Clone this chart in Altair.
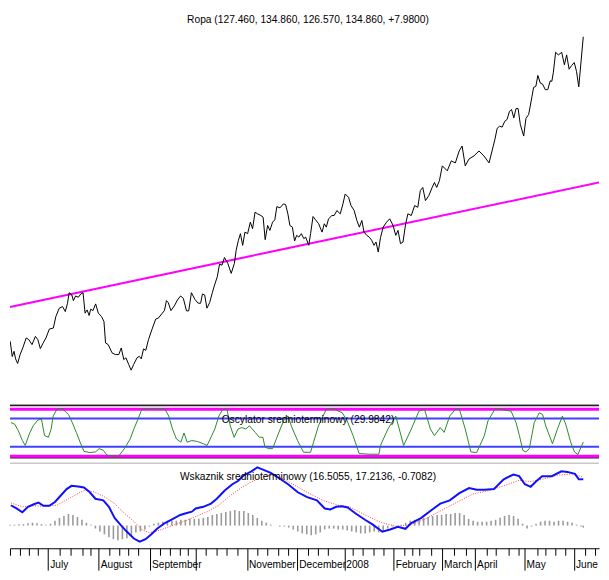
import altair as alt
import pandas as pd

FONT = "Liberation Sans, Arial, sans-serif"

# ---------------- data (session index t) ----------------
price_t = [0.1,1.0,1.8,2.5,3.4,4.5,5.7,7.2,8.4,9.8,11.3,12.4,13.5,14.6,16.0,17.5,19.3,20.4,21.9,23.4,
           24.6,25.6,26.3,27.5,28.2,29.2,30.4,31.5,32.5,33.4,34.3,35.2,35.9,36.9,38.1,39.3,40.7,41.8,42.5,43.7,
           45.4,46.9,48.4,49.5,50.6,51.6,52.8,53.9,55.0,56.5,57.5,58.4,59.4,60.4,61.6,63.1,64.8,66.0,67.5,68.7,
           69.6,70.4,71.6,73.1,74.5,75.9,77.1,78.5,79.5,80.7,82.2,83.7,84.8,85.6,86.6,87.6,88.8,90.0,91.0,92.2,
           93.2,94.3,95.4,96.9,98.4,99.8,100.6,101.6,102.5,103.5,104.5,105.7,106.9,107.9,109.0,110.1,111.6,112.6,113.5,114.6,
           115.6,116.8,117.8,118.7,120.1,121.6,122.6,123.6,124.5,125.6,126.6,127.5,128.5,129.6,130.7,131.5,132.9,133.7,134.8,135.9,
           137.3,138.8,139.8,140.7,141.7,143.2,144.2,145.4,146.9,148.1,149.1,150.6,151.7,153.1,154.3,155.4,156.5,157.5,158.7,159.8,
           160.9,161.9,162.8,163.8,164.8,166.0,167.5,168.9,170.4,171.6,172.6,173.7,174.8,176.0,177.0,178.5,180.0,181.4,182.5,183.6,
           184.8,186.3,187.8,188.8,189.8,191.0,
           192.3,194.5,196.3,198.1,199.8,201.1,202.5,204.2,206.4,208.6,210.8,213.1,
           215.7,216.7,217.8,218.9,220.1,221.1,222.2,223.1,224.1,225.1,226.0,227.0,228.5,229.5,230.7,232.2,232.9,233.9,234.8,235.9,
           236.9,238.1,239.2,240.3,241.0,241.7,242.7,243.9,245.4,246.6,247.6,248.7,249.8,251.0,252.0,253.0,255.0]
price_v = [86.40,83.98,84.82,83.62,82.88,84.30,85.36,86.94,86.67,85.88,87.19,86.67,85.25,86.04,86.94,88.36,88.52,90.35,91.68,91.93,
           91.14,92.47,94.14,93.78,92.88,93.62,93.42,93.94,94.14,90.89,91.41,90.51,91.52,91.30,92.36,90.89,90.35,89.56,86.15,85.88,
           84.57,84.30,84.30,85.36,83.51,83.78,82.72,81.82,82.72,83.78,84.03,83.62,85.20,84.98,86.67,88.25,89.94,90.10,90.78,91.30,
           92.88,92.56,91.30,92.04,92.99,93.62,93.26,91.25,91.25,94.14,93.10,92.47,92.47,93.94,93.78,91.68,92.56,94.14,95.36,96.67,
           98.68,98.52,99.74,98.79,97.21,98.79,100.89,102.47,103.53,101.68,103.78,103.53,105.36,104.32,106.94,106.69,106.42,106.15,102.58,104.84,
           104.05,105.36,105.74,107.84,107.64,108.27,108.16,106.69,104.84,104.57,102.36,103.26,102.99,103.53,102.74,102.99,101.68,103.53,106.26,105.74,
           105.11,103.78,105.11,104.57,105.90,106.42,106.42,107.21,106.69,108.27,109.85,109.31,108.00,107.21,105.63,104.57,105.63,103.78,103.26,102.99,
           102.47,101.68,102.20,100.62,102.90,104.57,105.36,105.90,104.84,103.26,104.05,101.95,102.20,105.11,106.69,106.42,108.00,107.73,110.37,110.89,
           108.79,109.58,110.89,111.68,110.89,111.95,
           114.32,113.53,115.11,114.79,116.69,117.48,114.32,115.43,115.90,116.69,115.90,114.79,
           118.54,120.28,120.64,120.48,121.43,121.70,123.01,123.28,121.95,123.44,123.44,120.91,119.06,121.86,122.49,125.38,126.80,126.96,128.70,127.48,
           127.32,126.44,126.44,127.86,127.75,129.22,132.38,131.97,132.38,130.39,131.97,129.69,130.28,130.75,129.33,126.88,134.86]

trend_t = [0, 265.5]
trend_v = [91.88, 111.95]

osc_t = [0.4,2.1,3.7,5.5,6.8,8.6,10.3,12.4,14.0,15.4,17.1,18.3,19.2,20.9,23.5,26.0,27.7,29.5,31.2,32.9,
         35.5,38.0,39.7,41.5,43.2,45.7,48.3,50.9,53.5,55.1,56.9,58.6,62.9,68.9,70.6,72.3,74.0,76.0,77.4,78.8,
         80.9,83.4,86.0,87.7,89.4,91.1,92.9,94.6,96.5,98.0,99.7,101.4,103.1,104.9,106.5,109.1,110.9,112.5,113.4,115.1,
         116.8,118.5,120.2,122.0,123.7,125.3,127.9,130.6,133.7,137.2,140.7,144.2,147.8,150.0,152.6,155.3,159.6,164.1,164.8,168.1,
         171.6,175.1,178.5,181.9,184.4,187.0,188.8,191.4,193.1,195.6,198.2,199.9,202.5,205.0,207.6,211.0,212.6,215.6,217.5,222.9,
         225.1,226.6,228.1,229.5,231.0,233.2,235.4,236.9,238.3,241.3,243.5,245.7,247.2,249.4,251.1,252.6,255.0]
osc_v = [71.5,68.1,54.2,33.3,22.9,47.3,64.6,77.1,78.5,43.7,40.2,57.7,85.4,100,100,88.9,71.5,50.6,29.8,10.4,
         7.7,9.0,16.0,12.5,2.1,0,0,16.0,36.9,57.7,78.5,99.4,100,100,85.4,57.7,36.9,29.8,49.4,29.8,
         33.3,31.2,26.5,22.9,40.2,57.7,85.4,99.4,100,64.6,40.2,57.7,61.0,57.7,64.6,50.6,40.2,40.2,19.4,16.0,
         16.0,36.9,57.7,78.5,85.4,62.5,33.3,8.3,8.3,64.6,100,100,92.3,75,43.7,5.6,4.2,4.2,22.9,57.7,
         85.4,22.9,57.7,95.8,99.4,57.7,43.7,61.0,50.6,85.4,100,100,57.7,9.0,7.7,43.7,75,99.4,100,95.8,
         71.5,43.7,12.5,9.0,16.0,71.5,92.3,88.9,64.6,26.5,57.7,85.4,68.1,29.8,9.0,3.5,29.98]
osc_levels_outer = [0, 100]
osc_levels_inner = [20, 80]
osc_frame_dark = [-3.6, 107.8]
osc_frame_light = [-14.8, 109.3]

macd_t = [0.4,2.9,5.5,8.0,10.6,12.7,14.9,17.5,20.0,22.6,25.2,27.4,30.3,32.9,35.5,38.0,41.5,44.0,46.6,49.1,
          51.7,55.1,57.7,60.3,62.9,65.4,68.9,72.3,75.7,78.3,80.9,82.6,86.0,89.4,92.0,95.4,98.9,101.4,104.0,107.4,
          110.0,112.5,116.0,119.4,123.7,128.0,132.2,136.5,140.0,142.5,145.1,147.6,150.2,153.6,157.9,161.4,165.6,169.1,172.5,175.9,
          178.5,182.8,187.1,191.4,195.6,199.9,204.2,207.6,211.0,215.3,219.6,223.9,226.5,229.0,231.6,234.2,236.7,241.0,245.3,247.9,
          251.3,253.0,255.0]
macd_v = [7.27,6.12,4.74,6.71,7.61,8.20,7.06,7.06,8.44,10.73,13.04,14.19,13.98,13.63,11.90,9.58,9.00,6.71,2.66,0.35,
          -1.94,-4.60,-5.74,-4.84,-3.11,-1.14,0.93,2.32,3.81,4.39,4.98,6.12,6.71,7.85,9.58,12.46,14.77,15.92,17.99,19.38,
          20.76,19.96,18.82,17.09,14.77,11.90,10.17,9.00,6.12,5.78,6.71,6.92,6.47,4.39,2.08,0.35,-2.18,-1.38,-0.45,-1.14,
          0.93,2.66,5.33,7.85,9.00,11.56,13.39,12.80,12.80,13.04,16.50,18.23,17.65,14.77,13.84,15.92,17.65,17.65,19.38,19.17,
          18.48,16.50,16.5055]
signal_t = [0.4,5.5,10.6,15.7,20.9,26.0,31.2,33.7,38.0,42.3,46.6,50.9,55.1,58.6,62.0,65.4,70.6,77.4,82.6,87.7,
            92.9,98.0,103.1,108.2,113.4,116.8,122.0,127.1,132.2,139.1,146.0,151.1,157.9,164.8,171.6,178.5,185.4,192.2,199.1,205.9,
            212.7,219.6,226.5,231.6,236.7,243.6,250.5,255.0]
signal_v = [8.10,6.71,7.06,6.92,7.27,9.58,11.90,12.70,11.90,10.17,7.85,4.39,1.52,-1.38,-2.53,-1.94,-0.45,1.52,3.25,4.98,
            7.27,10.73,13.63,15.92,17.65,18.23,16.50,14.19,11.90,9.00,7.27,6.71,3.81,1.18,-0.21,0.35,2.66,5.54,8.44,11.31,
            12.46,14.19,16.16,15.71,16.50,17.99,18.48,17.2136]
hist_t = list(range(0, 256, 2)) + [255]
hist_v = [0.35,0.35,0.52,0.52,0.87,1.04,0.87,0.52,0.35,0.69,
          1.73,2.77,3.46,4.15,3.81,3.11,2.08,1.04,0.35,-1.04,
          -2.08,-3.11,-4.15,-4.84,-5.19,-4.84,-4.50,-3.46,-2.42,-2.08,
          -1.38,-0.35,0.69,1.04,1.38,1.73,1.73,1.73,2.08,2.08,
          2.42,2.42,2.42,2.77,3.11,3.81,4.15,4.50,4.84,5.19,
          5.54,5.19,5.19,4.50,3.81,2.77,1.73,1.04,0.35,0.0,
          -0.35,-0.35,-0.69,-1.38,-2.08,-2.77,-3.11,-3.46,-3.11,-2.42,
          -1.38,-1.04,-1.04,-1.38,-1.38,-1.73,-2.08,-2.42,-2.77,-2.77,
          -2.42,-2.08,-2.42,-2.08,-1.04,-0.35,0.0,0.35,1.04,1.73,
          2.08,2.42,2.77,3.11,3.46,3.81,3.81,4.15,4.15,4.50,
          4.50,3.81,2.42,1.73,1.38,1.38,1.38,1.73,2.08,2.77,
          3.46,3.81,3.46,2.42,0.69,-1.04,-0.35,0.69,1.38,1.73,
          1.73,1.38,1.73,1.73,1.38,1.04,0.35,-0.35,-0.708]

month_t = [17.0, 39.5, 62.3, 82.6, 105.4, 127.8, 148.7, 170.7, 192.2, 206.9, 228.9, 250.9]
month_labels = ["July", "August", "September", "", "November", "December", "2008",
                "February", "March", "April", "May", "June"]
week_t = [0.1,4.2,8.4,12.5,22.2,27.0,32.2,35.9,44.2,48.4,52.5,57.2,66.7,71.2,75.5,79.3,87.2,91.9,96.5,101.1,
          110.0,114.6,119.2,123.8,132.4,137.0,141.6,152.3,156.9,161.5,166.1,175.3,178.8,182.2,187.3,197.6,202.8,
          211.9,216.0,221.9,226.0,234.4,238.0,242.5,246.9,255.7,260.1]

title_top = "Ropa (127.460, 134.860, 126.570, 134.860, +7.9800)"
title_osc = "Oscylator srednioterminowy (29.9842)"
title_ind = "Wskaznik srednioterminowy (16.5055, 17.2136, -0.7082)"

# ---------------- frames ----------------
price_df = pd.DataFrame({"t": price_t, "v": price_v})
trend_df = pd.DataFrame({"t": trend_t, "v": trend_v})
osc_df = pd.DataFrame({"t": osc_t, "v": osc_v})
macd_df = pd.DataFrame({"t": macd_t, "v": macd_v})
signal_df = pd.DataFrame({"t": signal_t, "v": signal_v})
hist_df = pd.DataFrame({"t": hist_t, "v": hist_v})

W = 593
xs = alt.Scale(domain=[0, 262.0], nice=False, zero=False)
X = alt.X("t:Q", scale=xs, axis=None)


def caption(text, ypos):
    return alt.Chart(pd.DataFrame({"label": [text]})).mark_text(
        font=FONT, fontSize=10.3, color="black", align="center", baseline="middle"
    ).encode(text="label:N", x=alt.value(300), y=alt.value(ypos))


# ---------------- price panel ----------------
ys_p = alt.Scale(domain=[77.19, 139.13], nice=False, zero=False)
Yp = alt.Y("v:Q", scale=ys_p, axis=None)
trend = alt.Chart(trend_df).mark_line(color="#ff00ff", strokeWidth=2, clip=True).encode(x=X, y=Yp)
price = alt.Chart(price_df).mark_line(color="black", strokeWidth=1, clip=True).encode(x=X, y=Yp)
top = alt.layer(trend, price, caption(title_top, 10)).properties(width=W, height=392)

# ---------------- oscillator panel ----------------
ys_o = alt.Scale(domain=[-18.4, 121.1], nice=False, zero=False)
Yo = alt.Y("v:Q", scale=ys_o, axis=None)
lvl = lambda vals: pd.DataFrame({"v": vals})
o_light = alt.Chart(lvl(osc_frame_light)).mark_rule(color="#c8c8c8", strokeWidth=1.5).encode(y=Yo)
o_dark = alt.Chart(lvl(osc_frame_dark)).mark_rule(color="#222222", strokeWidth=1.5).encode(y=Yo)
o_outer = alt.Chart(lvl(osc_levels_outer)).mark_rule(color="#ff00ff", strokeWidth=3).encode(y=Yo)
o_inner = alt.Chart(lvl(osc_levels_inner)).mark_rule(color="#4040ff", strokeWidth=2).encode(y=Yo)
o_line = alt.Chart(osc_df).mark_line(color="#2a8a2a", strokeWidth=1, clip=True).encode(x=X, y=Yo)
mid = alt.layer(o_light, o_dark, o_outer, o_inner, o_line, caption(title_osc, 21)).properties(
    width=W, height=66)

# ---------------- indicator panel ----------------
ys_i = alt.Scale(domain=[-8.08, 21.69], nice=False, zero=False)
Yi = alt.Y("v:Q", scale=ys_i, axis=None)
label_expr = "%s[indexof(%s, datum.value)]" % (
    "[" + ",".join("'%s'" % s for s in month_labels) + "]",
    "[" + ",".join(str(v) for v in month_t) + "]")
month_axis = alt.Axis(values=month_t, labelExpr=label_expr, orient="bottom", grid=False,
                      tickSize=22, tickColor="black", tickWidth=1,
                      domainColor="black", domainWidth=1,
                      labelFont=FONT, labelFontSize=10.2, labelColor="black",
                      labelAlign="left", labelBaseline="alphabetic", labelPadding=-3,
                      labelOffset=1.5, labelOverlap=False, labelBound=False, labelFlush=False, title=None)
week_axis = alt.Axis(values=week_t, labels=False, orient="bottom", grid=False, domain=False,
                     tickSize=7, tickColor="black", tickWidth=1, title=None)

hist = alt.Chart(hist_df).mark_rule(color="#9a9a9a", strokeWidth=1.6).encode(
    x=alt.X("t:Q", scale=xs, axis=week_axis), y=Yi, y2=alt.datum(0))
signal = alt.Chart(signal_df).mark_line(color="#ff4040", strokeWidth=1, strokeDash=[1, 1.5], clip=True).encode(
    x=alt.X("t:Q", scale=xs, axis=None), y=Yi)
macd = alt.Chart(macd_df).mark_line(color="#1010ff", strokeWidth=2, clip=True).encode(
    x=alt.X("t:Q", scale=xs, axis=month_axis), y=Yi)
bot = alt.layer(hist, signal, macd, caption(title_ind, 12)).resolve_axis(x="independent").properties(
    width=W, height=84)

chart = alt.VConcatChart(vconcat=[top, mid, bot], spacing=0, padding=0).configure_view(stroke=None)
chart.save("out.html", embed_options={"renderer": "svg", "actions": False})
